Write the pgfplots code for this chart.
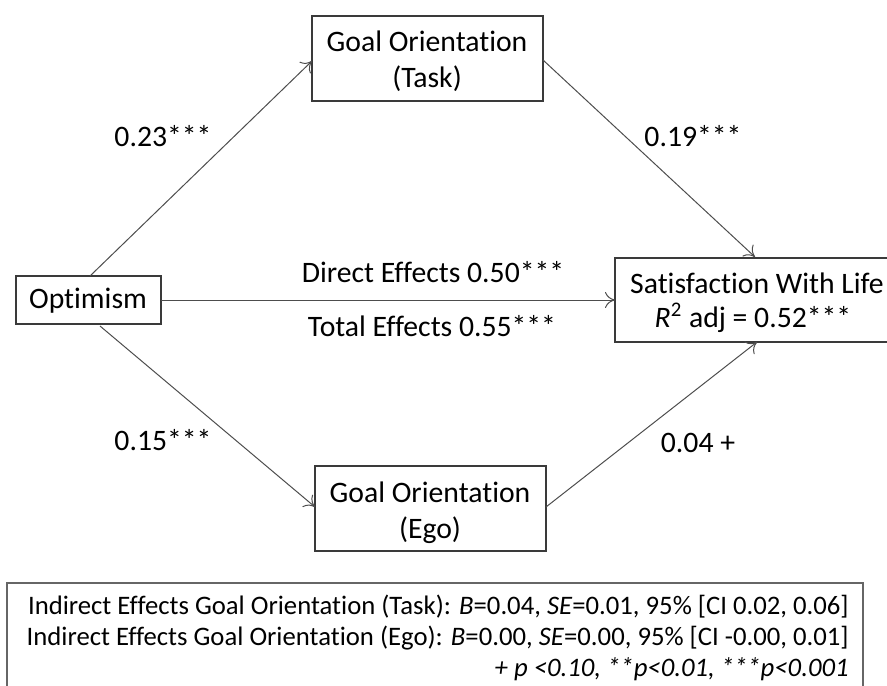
\documentclass[border=0pt]{standalone}
\usepackage{pgfplots}
\pgfplotsset{compat=1.18}
\usepackage{fontspec}
\setmainfont{Carlito}[Ligatures={NoCommon}]
\usetikzlibrary{arrows.meta}
\definecolor{boxc}{HTML}{3A3A3A}
\definecolor{arrc}{HTML}{4D4D4D}
\tikzset{big/.style={font=\fontsize{14.85bp}{18bp}\selectfont, text=black, inner sep=0pt},
         small/.style={font=\fontsize{13.35bp}{16bp}\selectfont, text=black, inner sep=0pt, anchor=east}}
\begin{document}
\begin{tikzpicture}
\begin{axis}[name=ax, scale only axis, width=443.5bp, height=343bp,
  xmin=0, xmax=887, ymin=0, ymax=686, y dir=reverse,
  axis lines=none, clip=false]
% boxes
\draw[boxc, line width=0.6pt] (axis cs:312,16) rectangle (axis cs:543,101);
\draw[boxc, line width=0.6pt] (axis cs:16,276) rectangle (axis cs:161,324);
\draw[boxc, line width=0.6pt] (axis cs:615,258) rectangle (axis cs:895,342);
\draw[boxc, line width=0.6pt] (axis cs:315,466) rectangle (axis cs:546,551);
\draw[gray!80!black, line width=0.6pt] (axis cs:7,700) -- (axis cs:7,583) -- (axis cs:863,583) -- (axis cs:863,700);
% arrows
\addplot[arrc, line width=0.5pt, -{To[length=5bp,width=8bp]}] coordinates {(90,276) (312,61)};
\addplot[arrc, line width=0.5pt, -{To[length=5bp,width=8bp]}] coordinates {(543,60) (755,257)};
\addplot[arrc, line width=0.5pt, -{To[length=5bp,width=8bp]}] coordinates {(161,300) (615,300)};
\addplot[arrc, line width=0.5pt, -{To[length=5bp,width=8bp]}] coordinates {(100,326) (315,507)};
\addplot[arrc, line width=0.5pt, -{To[length=5bp,width=8bp]}] coordinates {(546,507) (757,342)};
% box texts
\node[big] at (axis cs:427,41) {Goal Orientation};
\node[big] at (axis cs:427,79) {(Task)};
\node[big] at (axis cs:88,301) {Optimism};
\node[big] at (axis cs:757,283) {Satisfaction With Life};
\node[big] at (axis cs:753,318) {\textit{R}\textsuperscript{2} adj = 0.52***};
\node[big] at (axis cs:430,492) {Goal Orientation};
\node[big] at (axis cs:430,530) {(Ego)};
% path labels
\node[big] at (axis cs:163,136) {0.23***};
\node[big] at (axis cs:693,136) {0.19***};
\node[big] at (axis cs:433,272) {Direct Effects 0.50***};
\node[big] at (axis cs:432,326) {Total Effects 0.55***};
\node[big] at (axis cs:163,440) {0.15***};
\node[big] at (axis cs:698,443) {0.04 +};
% bottom notes
\node[small] at (axis cs:849,607) {Indirect Effects Goal Orientation (Task): \textit{B}=0.04, \textit{SE}=0.01, 95\% [CI 0.02, 0.06]};
\node[small] at (axis cs:849,638) {Indirect Effects Goal Orientation (Ego): \textit{B}=0.00, \textit{SE}=0.00, 95\% [CI -0.00, 0.01]};
\node[small, font=\fontsize{13.35bp}{16bp}\selectfont\itshape] at (axis cs:849,669) {+ p <0.10, **p<0.01, ***p<0.001};
\end{axis}
\pgfresetboundingbox
\path (ax.south west) rectangle (ax.north east);
\end{tikzpicture}
\end{document}
